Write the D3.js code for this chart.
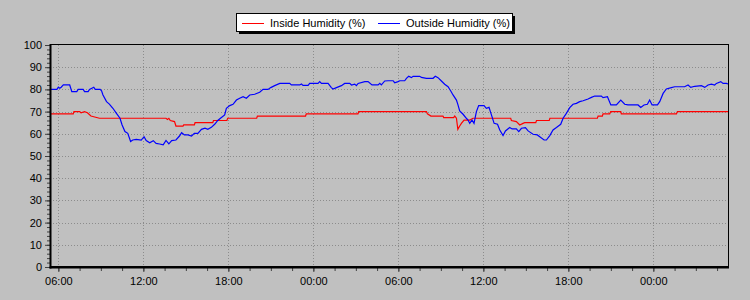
<!DOCTYPE html>
<html>
<head>
<meta charset="utf-8">
<script src="https://cdn.jsdelivr.net/npm/d3@7"></script>
<style>
  body { margin: 0; background: #c0c0c0; }
  svg { display: block; font-family: "Liberation Sans", Arial, sans-serif; }
</style>
</head>
<body>
<svg id="chart" width="750" height="300"></svg>
<script>
// hours counted from midnight of the first day
let insideHours = [5.41, 7.05, 7.1, 7.5, 7.6, 7.85, 8.05, 8.3, 8.9, 13.6, 13.7, 13.8, 13.9, 14.2, 14.3, 14.8, 14.85, 15.6, 15.65, 16.9, 16.95, 17.9, 17.95, 20.0, 20.05, 23.45, 23.5, 27.15, 27.2, 31.98, 32.05, 32.3, 33.15, 33.2, 33.9, 33.98, 34.1, 34.2, 34.33, 34.45, 34.64, 35.04, 35.27, 37.93, 37.98, 38.33, 38.57, 38.8, 38.92, 39.7, 39.75, 40.65, 40.7, 44.05, 44.1, 44.4, 44.45, 44.92, 44.99, 45.7, 45.74, 49.63, 49.7, 53.27];
let insideValues = [69, 69, 70, 70, 69.5, 70, 69.5, 68, 67, 67, 66.5, 67, 66, 65.5, 63.5, 63.5, 64, 64, 65, 65, 66, 66, 67, 67, 68, 68, 69, 69, 70, 70, 69, 68, 68, 67.3, 67.3, 68, 67, 62, 63.5, 64.7, 66.2, 66.2, 67, 67, 66, 65.5, 64, 64.7, 65, 65, 66, 66, 67, 67, 68, 68, 69, 69, 70, 70, 69, 69, 70, 70];

let outsideHours = [5.41, 5.9, 6.0, 6.1, 6.2, 6.35, 6.8, 6.95, 7.3, 7.4, 7.75, 7.85, 8.1, 8.2, 8.5, 8.6, 8.95, 9.05, 9.15, 9.4, 9.6, 9.85, 10.1, 10.35, 10.5, 10.7, 10.9, 11.1, 11.25, 11.5, 11.85, 12.05, 12.2, 12.45, 12.7, 12.9, 13.15, 13.4, 13.6, 13.8, 14.0, 14.3, 14.55, 14.7, 14.9, 15.15, 15.4, 15.6, 15.85, 16.1, 16.35, 16.55, 16.8, 17.05, 17.25,
  17.51, 17.74, 17.86, 18.1, 18.33, 18.57, 18.8, 19.04, 19.27, 19.51, 19.86, 20.21, 20.45, 20.8, 20.99, 21.27, 21.63, 22.33, 22.45, 23.04, 23.16, 23.27, 23.63, 23.74, 24.33, 24.45, 24.57, 25.04, 25.27, 25.39, 25.63, 25.98, 26.21, 26.57, 26.69, 26.92, 27.04, 27.16, 27.63, 27.86, 28.14, 28.57, 28.69, 28.8, 29.04,
  29.27, 29.63, 29.74, 29.98, 30.1, 30.45, 30.57, 30.73, 30.92, 31.04, 31.51, 31.63, 31.98, 32.45, 32.61, 32.8, 33.04, 33.27, 33.51, 33.7, 33.86, 34.1, 34.21, 34.33, 34.57, 34.8, 34.92, 35.04, 35.2, 35.34, 35.51, 35.67, 36.05, 36.21, 36.4, 36.57, 36.76, 37.0, 37.16, 37.39, 37.56, 37.86, 38.03, 38.33, 38.5, 38.69, 38.97, 39.16, 39.51, 39.81, 39.98, 40.29, 40.45, 40.69, 40.92, 41.16, 41.3, 41.46,
  41.63, 41.86, 42.1, 42.33, 42.57, 42.8, 43.04, 43.39, 43.63, 43.86, 44.33, 44.45, 44.76, 45.0, 45.39, 45.7, 45.98, 46.21, 46.92, 47.11, 47.34, 47.58, 47.74, 47.91, 48.29, 48.45, 48.69, 48.92, 49.27, 49.51, 50.21, 50.45, 50.64, 50.92, 51.39, 51.63, 51.86, 52.1, 52.33, 52.45, 52.76, 52.92, 53.16, 53.27];
let outsideValues = [80, 80, 81, 80.5, 81, 82, 82, 79, 79, 80, 80, 79, 79, 80, 81, 80, 80, 79.4, 77.5, 74.5, 73.4, 71.5, 69.2, 67, 64, 61, 60.2, 56.5, 57.2, 57.5, 57.2, 58.7, 57, 56, 56.9, 55.7, 55.4, 55, 57, 55.5, 56.9, 57.2, 59, 60.5, 59.5, 59.5, 59, 60.2, 60.2, 62, 62.5, 62, 62.9, 64.4, 66,
  67.3, 68.5, 71.5, 72.7, 73.3, 75.2, 76, 76.7, 76, 77.5, 77.8, 78.7, 80, 80, 80.8, 81.7, 82.7, 82.7, 82, 82, 82.4, 81.8, 81.8, 82.7, 82.7, 83.5, 82.7, 82.7, 80.8, 80.2, 80.8, 81.7, 82.7, 82.7, 82, 82.4, 81.7, 82.7, 83.5, 83.5, 82, 82, 82.7, 82, 83.8,
  83.9, 83.9, 83, 83.5, 83.9, 83.9, 85, 85.9, 85.3, 85.9, 85.9, 85.4, 85, 85, 85.9, 85.3, 83.8, 82.3, 81.2, 79.3, 77.5, 75.2, 73, 70.3, 68.8, 67, 66.2, 64.7, 66.2, 64.7, 70, 72.7, 72.7, 71.5, 71.9, 68.5, 64.7, 64.3, 61.7, 59.2, 61.3, 62.8, 62.2, 62.2, 61, 62.5, 62.8, 61.3, 59.8, 59.5, 58.7, 57.2, 57.2, 59.2, 61.7, 62.8, 63.5, 64.3,
  67, 69.2, 71.8, 73.3, 73.7, 74.5, 74.9, 75.7, 76.4, 77, 77, 76.3, 76.7, 73, 73, 75.2, 73.3, 73, 73, 71.9, 73, 73.3, 75.2, 73, 73, 74.5, 78.2, 80.2, 80.8, 81.2, 81.2, 82, 80.9, 81.4, 81.7, 80.9, 82, 82.4, 82, 82.7, 83.5, 82.7, 82.7, 82.4];

let seriesNames = ["Inside Humidity (%)", "Outside Humidity (%)"];
let seriesColors = ["#ff0000", "#0000ff"];
let yTicks = [0, 10, 20, 30, 40, 50, 60, 70, 80, 90, 100];

let startDay = new Date(2024, 0, 1);
let toDate = (h) => new Date(startDay.getTime() + h * 3600000);

let svg = d3.select("#chart");
let plotLeft = 50, plotRight = 728, plotTop = 45, plotBottom = 267;

let x = d3.scaleTime()
    .domain([toDate(5.41), toDate(53.27)])
    .range([plotLeft, plotRight]);
let y = d3.scaleLinear().domain([0, 100]).range([plotBottom, plotTop]);

// grid
let majorX = x.ticks(d3.timeHour.every(6));
svg.append("g")
    .selectAll("line")
    .data(majorX)
    .join("line")
    .attr("x1", (d) => Math.round(x(d)) + 0.5)
    .attr("x2", (d) => Math.round(x(d)) + 0.5)
    .attr("y1", plotTop)
    .attr("y2", plotBottom)
    .attr("stroke", "#8c8c8c")
    .attr("stroke-dasharray", "1,2");
svg.append("g")
    .selectAll("line")
    .data(yTicks.slice(1, -1))
    .join("line")
    .attr("x1", plotLeft)
    .attr("x2", plotRight)
    .attr("y1", (d) => Math.round(y(d)) + 0.5)
    .attr("y2", (d) => Math.round(y(d)) + 0.5)
    .attr("stroke", "#8c8c8c")
    .attr("stroke-dasharray", "1,2");

// plot frame
svg.append("rect")
    .attr("x", plotLeft + 0.5)
    .attr("y", plotTop - 0.5)
    .attr("width", plotRight - plotLeft)
    .attr("height", plotBottom - plotTop)
    .attr("fill", "none")
    .attr("stroke", "#000");

// lines
let line = d3.line().x((d) => x(d[0])).y((d) => y(d[1]));
let inside = insideHours.map((h, i) => [toDate(h), insideValues[i]]);
let outside = outsideHours.map((h, i) => [toDate(h), outsideValues[i]]);
[inside, outside].forEach((data, i) => {
    svg.append("path")
        .datum(data)
        .attr("d", line)
        .attr("fill", "none")
        .attr("stroke", seriesColors[i])
        .attr("stroke-width", 1.2);
});

// y axis
let minorY = d3.range(0, 101, 2);
svg.append("g")
    .attr("transform", `translate(${plotLeft},0)`)
    .call(d3.axisLeft(y).tickValues(minorY).tickSize(3).tickFormat(""))
    .call((g) => g.select(".domain").remove())
    .call((g) => g.selectAll("line").attr("stroke", "#404040"));
svg.append("g")
    .attr("transform", `translate(${plotLeft},0)`)
    .call(d3.axisLeft(y).tickValues(yTicks).tickSize(5).tickPadding(3))
    .call((g) => g.select(".domain").remove())
    .call((g) => g.selectAll("line").attr("stroke", "#404040"))
    .call((g) => g.selectAll("text").attr("font-size", 11).attr("fill", "#000")
        .attr("font-family", "Liberation Sans, Arial, sans-serif"));

// x axis
let minorX = [];
for (let t = majorX[0].getTime(); t <= x.domain()[1].getTime(); t += 90 * 60000) {
    minorX.push(new Date(t));
}
svg.append("g")
    .attr("transform", `translate(0,${plotBottom})`)
    .call(d3.axisBottom(x).tickValues(minorX).tickSize(4).tickFormat(""))
    .call((g) => g.select(".domain").remove())
    .call((g) => g.selectAll("line").attr("stroke", "#404040"));
svg.append("g")
    .attr("transform", `translate(0,${plotBottom})`)
    .call(d3.axisBottom(x).tickValues(majorX).tickSize(5).tickPadding(5).tickFormat(d3.timeFormat("%H:%M")))
    .call((g) => g.select(".domain").remove())
    .call((g) => g.selectAll("line").attr("stroke", "#404040"))
    .call((g) => g.selectAll("text").attr("font-size", 11).attr("fill", "#000")
        .attr("font-family", "Liberation Sans, Arial, sans-serif"));

// thick left / bottom axis lines
svg.append("line")
    .attr("x1", plotLeft + 0.5).attr("x2", plotLeft + 0.5)
    .attr("y1", plotTop - 1).attr("y2", plotBottom + 1.5)
    .attr("stroke", "#000").attr("stroke-width", 2);
svg.append("line")
    .attr("x1", plotLeft - 0.5).attr("x2", plotRight + 1)
    .attr("y1", plotBottom + 0.5).attr("y2", plotBottom + 0.5)
    .attr("stroke", "#000").attr("stroke-width", 2);

// legend
let legend = svg.append("g");
legend.append("rect")
    .attr("x", 239).attr("y", 16)
    .attr("width", 276).attr("height", 18)
    .attr("fill", "#000");
legend.append("rect")
    .attr("x", 236.5).attr("y", 13.5)
    .attr("width", 276).attr("height", 18)
    .attr("fill", "#fff")
    .attr("stroke", "#000");
let legendX = [242, 378];
seriesNames.forEach((name, i) => {
    legend.append("line")
        .attr("x1", legendX[i]).attr("x2", legendX[i] + 22)
        .attr("y1", 23.5).attr("y2", 23.5)
        .attr("stroke", seriesColors[i]);
    legend.append("text")
        .attr("x", legendX[i] + 28)
        .attr("y", 27)
        .attr("font-size", 11)
        .text(name);
});
</script>
</body>
</html>
